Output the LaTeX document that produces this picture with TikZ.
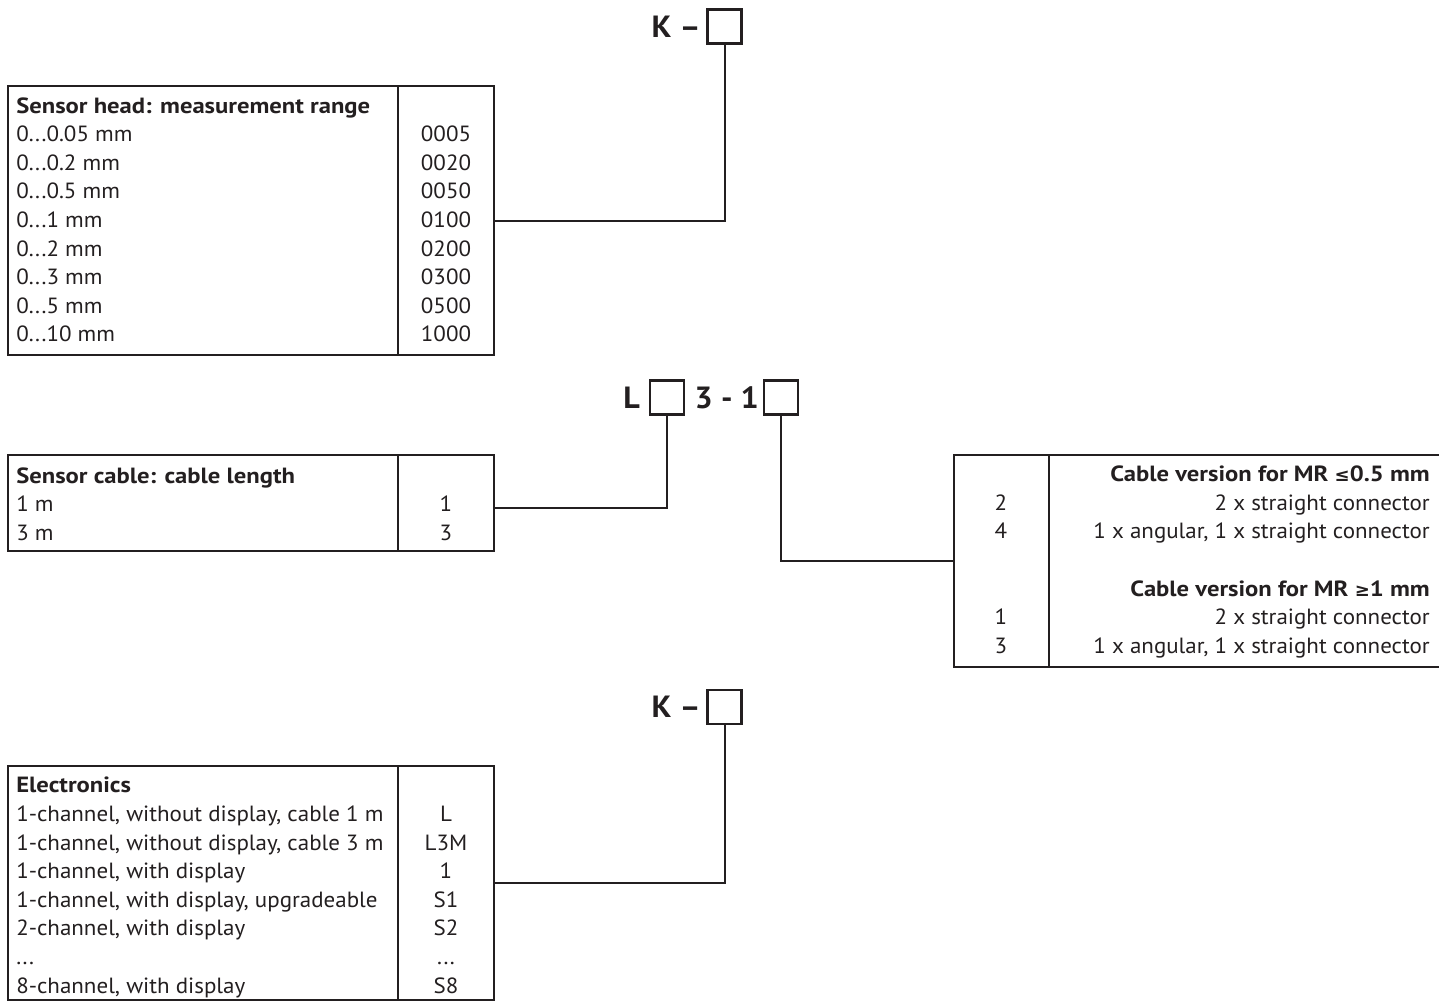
\documentclass[tikz,border=0pt]{standalone}
\usepackage{fontspec}
\setmainfont{PT Sans}[FakeStretch=1.045]
\newfontfamily\hdrfont{PT Sans}[FakeStretch=1.12]
\newfontfamily\symfont{DejaVu Sans}[Scale=0.82]
\usetikzlibrary{positioning,fit}
\definecolor{ink}{RGB}{35,31,32}
\tikzset{
  tabframe/.style = {draw=ink, line width=1.7pt, inner sep=0pt},
  divider/.style  = {draw=ink, line width=1.7pt},
  wire/.style     = {draw=ink, line width=1.5pt},
  slot/.style     = {draw=ink, line width=1.7pt, minimum size=25.5pt, inner sep=0pt},
  key/.style      = {inner sep=0pt, text=ink, font=\fontsize{23}{28}\selectfont\bfseries},
  txt/.style      = {inner sep=0pt, text=ink, anchor=base west,
                     font=\fontsize{16.5}{20}\selectfont},
  hdr/.style      = {txt, font=\fontsize{16.5}{20}\selectfont\hdrfont\bfseries},
  rtxt/.style     = {txt, anchor=base east},
  rhdr/.style     = {hdr, anchor=base east},
  code/.style     = {txt, anchor=base},
}

\begin{document}
\begin{tikzpicture}[x=0.75pt, y=-0.75pt]
\useasboundingbox (0,0) rectangle (1439,1003);

% --- order code slots ---
\node[slot] (kslot1) at (724.5,26.5) {};
\node[key, left=4pt of kslot1] (kpre1) {K –};

\node[slot] (lslot) at (667,397.5) {};
\node[key, left=6.5pt of lslot] (lpre) {L};
\node[key, right=7pt of lslot] (lmid) {3 - 1};
\node[slot] (vslot) at (781,397.5) {};

\node[slot] (kslot2) at (724.5,707) {};
\node[key, left=4pt of kslot2] (kpre2) {K –};

% --- sensor head ---
\node[tabframe, fit={(8,86) (494,355)}] (tab1) {};
\draw[divider] (398,86) -- (398,355);
\node[hdr] (rngh) at (16,113) {Sensor head: measurement range};
\node[txt] (rng1) at (16,141.6) {0...0.05 mm};
\node[txt] (rng2) at (16,170.2) {0...0.2 mm};
\node[txt] (rng3) at (16,198.8) {0...0.5 mm};
\node[txt] (rng4) at (16,227.4) {0...1 mm};
\node[txt] (rng5) at (16,256) {0...2 mm};
\node[txt] (rng6) at (16,284.6) {0...3 mm};
\node[txt] (rng7) at (16,313.2) {0...5 mm};
\node[txt] (rng8) at (16,341.8) {0...10 mm};
\node[code] (rngc1) at (446,141.6) {0005};
\node[code] (rngc2) at (446,170.2) {0020};
\node[code] (rngc3) at (446,198.8) {0050};
\node[code] (rngc4) at (446,227.4) {0100};
\node[code] (rngc5) at (446,256) {0200};
\node[code] (rngc6) at (446,284.6) {0300};
\node[code] (rngc7) at (446,313.2) {0500};
\node[code] (rngc8) at (446,341.8) {1000};

% --- sensor cable ---
\node[tabframe, fit={(8,455) (494,551)}] (tab2) {};
\draw[divider] (398,455) -- (398,551);
\node[hdr] (lenh) at (16,483.3) {Sensor cable: cable length};
\node[txt] (len1) at (16,511.7) {1 m};
\node[txt] (len2) at (16,540) {3 m};
\node[code] (lenc1) at (446,511.7) {1};
\node[code] (lenc2) at (446,540) {3};

% --- cable version ---
\node[tabframe, fit={(954,455) (1442,667)}] (tab3) {};
\draw[divider] (1049,455) -- (1049,667);
\node[rhdr] (verh1) at (1430,481.7) {Cable version for MR {\symfont\bfseries ≤}0.5 mm};
\node[rtxt] (ver1) at (1430,510) {2 x straight connector};
\node[rtxt] (ver2) at (1430,538.5) {1 x angular, 1 x straight connector};
\node[rhdr] (verh2) at (1430,596.7) {Cable version for MR {\symfont\bfseries ≥}1 mm};
\node[rtxt] (ver3) at (1430,624.6) {2 x straight connector};
\node[rtxt] (ver4) at (1430,653) {1 x angular, 1 x straight connector};
\node[code] (verc1) at (1001,510) {2};
\node[code] (verc2) at (1001,538.5) {4};
\node[code] (verc3) at (1001,624.6) {1};
\node[code] (verc4) at (1001,653) {3};

% --- electronics ---
\node[tabframe, fit={(8,766) (494,1000)}] (tab4) {};
\draw[divider] (398,766) -- (398,1000);
\node[hdr] (elh) at (16,792.7) {Electronics};
\node[txt] (el1) at (16,821.3) {1-channel, without display, cable 1 m};
\node[txt] (el2) at (16,850) {1-channel, without display, cable 3 m};
\node[txt] (el3) at (16,878.5) {1-channel, with display};
\node[txt] (el4) at (16,907) {1-channel, with display, upgradeable};
\node[txt] (el5) at (16,935.7) {2-channel, with display};
\node[txt] (el6) at (16,964.3) {...};
\node[txt] (el7) at (16,993) {8-channel, with display};
\node[code] (elc1) at (446,821.3) {L};
\node[code] (elc2) at (446,850) {L3M};
\node[code] (elc3) at (446,878.5) {1};
\node[code] (elc4) at (446,907) {S1};
\node[code] (elc5) at (446,935.7) {S2};
\node[code] (elc6) at (446,964.3) {...};
\node[code] (elc7) at (446,993) {S8};

\draw[wire] (kslot1.south) |- (tab1.east);
\draw[wire] (lslot.south) |- ([yshift=-3.75pt]tab2.east);
\draw[wire] (vslot.south) |- (tab3.west);
\draw[wire] (kslot2.south) |- (tab4.east);
\end{tikzpicture}
\end{document}
